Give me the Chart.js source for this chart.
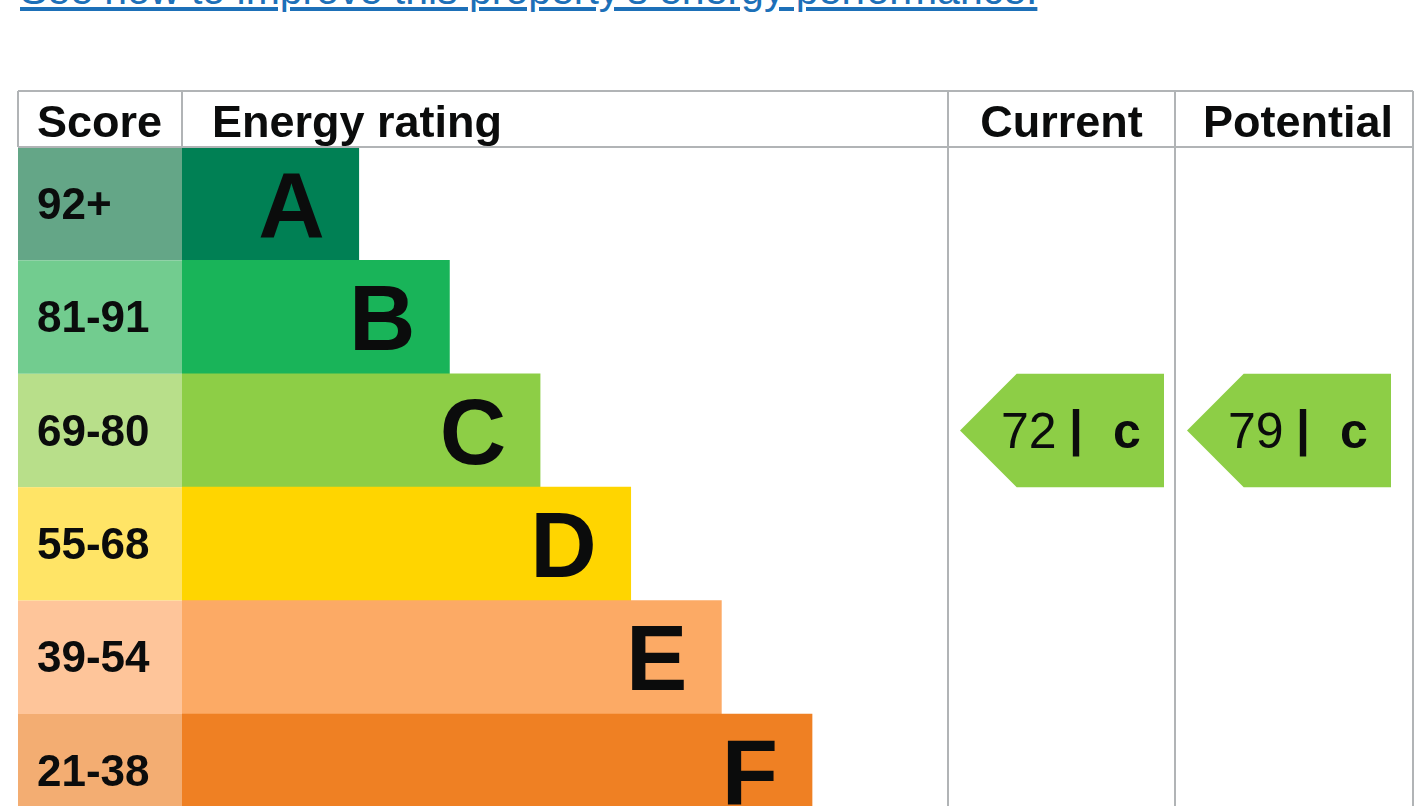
<!DOCTYPE html>
<html>
<head>
<meta charset="utf-8">
<script src="https://cdn.jsdelivr.net/npm/chart.js@4.4.1/dist/chart.umd.min.js"></script>
<style>
  html, body { margin: 0; padding: 0; background: #fff; overflow: hidden; }
  #link {
    position: absolute; left: 20px; top: -33px;
    font-family: "Liberation Sans", Arial, sans-serif; font-size: 41px;
    color: #1d70b8; text-decoration: underline; white-space: nowrap;
  }
  #epc { position: absolute; left: 0; top: 0; }
</style>
</head>
<body>
<a id="link" href="#">See how to improve this property's energy performance.</a>
<canvas id="epc" width="1420" height="960"></canvas>
<script>
// bands, top to bottom
const bands = ["A", "B", "C", "D", "E", "F", "G"];
const scoreRanges = ["92+", "81-91", "69-80", "55-68", "39-54", "21-38", "1-20"];
const bandMin = [92, 81, 69, 55, 39, 21, 1];
const barLengths = [78, 118, 158, 198, 238, 278, 318];
const bandColors = ["#008054", "#19b459", "#8dce46", "#ffd500", "#fcaa65", "#ef8023", "#e9153b"];
const scoreColors = ["#64a687", "#72cc8f", "#b8df8a", "#ffe466", "#fec59a", "#f3ad72", "#f28a9c"];
const columnTitles = ["Score", "Energy rating", "Current", "Potential"];
const currentScore = 72;
const potentialScore = 79;

const font = '"Liberation Sans", Arial, sans-serif';
const lineColor = "#b1b4b6";

function bandOf(score) {
    for (let i = 0; i < bandMin.length; i++) {
        if (score >= bandMin[i]) return i;
    }
    return bandMin.length - 1;
}

// table frame, score column, letters and arrows
const epcTable = {
    id: "epcTable",
    beforeDatasetsDraw(chart) {
        const ctx = chart.ctx;
        const y = chart.scales.y;
        const area = chart.chartArea;
        const band = (area.bottom - area.top) / bands.length;
        ctx.save();
        bands.forEach((b, i) => {
            let cy = y.getPixelForValue(i);
            ctx.fillStyle = scoreColors[i];
            ctx.fillRect(18, cy - band / 2, area.left - 18, band);
            ctx.fillStyle = "#0b0c0c";
            ctx.font = "bold 44px " + font;
            ctx.textAlign = "left";
            ctx.textBaseline = "alphabetic";
            ctx.fillText(scoreRanges[i], 37, cy + 15);
        });
        ctx.restore();
    },
    afterDatasetsDraw(chart) {
        const ctx = chart.ctx;
        const x = chart.scales.x;
        const y = chart.scales.y;
        const area = chart.chartArea;
        const band = (area.bottom - area.top) / bands.length;
        const top = 91, headBottom = area.top;
        const colCur = 948, colPot = 1175, right = 1413;

        ctx.save();
        // band letters
        ctx.fillStyle = "#0b0c0c";
        ctx.font = "bold 92px " + font;
        ctx.textAlign = "right";
        bands.forEach((b, i) => {
            let cy = y.getPixelForValue(i);
            ctx.fillText(b, x.getPixelForValue(barLengths[i]) - 34, cy + 33);
        });

        // grid lines
        ctx.strokeStyle = lineColor;
        ctx.lineWidth = 2;
        ctx.beginPath();
        ctx.moveTo(18, top); ctx.lineTo(right, top);
        ctx.moveTo(18, headBottom); ctx.lineTo(right, headBottom);
        ctx.moveTo(18, top); ctx.lineTo(18, headBottom);
        ctx.moveTo(area.left, top); ctx.lineTo(area.left, headBottom);
        [colCur, colPot, right].forEach(cx => {
            ctx.moveTo(cx, top); ctx.lineTo(cx, area.bottom);
        });
        ctx.stroke();

        // header
        ctx.fillStyle = "#0b0c0c";
        ctx.font = "bold 45px " + font;
        ctx.textAlign = "left";
        ctx.fillText(columnTitles[0], 37, 137);
        ctx.fillText(columnTitles[1], 212, 137);
        ctx.textAlign = "center";
        ctx.fillText(columnTitles[2], (colCur + colPot) / 2, 137);
        ctx.fillText(columnTitles[3], (colPot + right) / 2 + 4, 137);

        // arrows
        function arrow(left, score) {
            let i = bandOf(score);
            let cy = y.getPixelForValue(i);
            let y0 = cy - band / 2, y1 = cy + band / 2;
            let w = 204, h = band;
            ctx.fillStyle = bandColors[i];
            ctx.beginPath();
            ctx.moveTo(left, cy);
            ctx.lineTo(left + h / 2, y0);
            ctx.lineTo(left + w, y0);
            ctx.lineTo(left + w, y1);
            ctx.lineTo(left + h / 2, y1);
            ctx.closePath();
            ctx.fill();
            ctx.fillStyle = "#0b0c0c";
            ctx.textAlign = "left";
            ctx.font = "50px " + font;
            ctx.fillText(String(score), left + 41, cy + 17);
            ctx.font = "bold 50px " + font;
            ctx.fillText("|", left + 109, cy + 14);
            ctx.fillText(bands[i].toLowerCase(), left + 153, cy + 17);
        }
        arrow(colCur + 12, currentScore);
        arrow(colPot + 12, potentialScore);
        ctx.restore();
    }
};

const canvas = document.getElementById("epc");
const rowH = 113.4;
new Chart(canvas.getContext("2d"), {
    type: "bar",
    data: {
        labels: bands,
        datasets: [{
            data: barLengths,
            backgroundColor: bandColors,
            borderWidth: 0,
            barPercentage: 1,
            categoryPercentage: 1,
        }],
    },
    options: {
        indexAxis: "y",
        responsive: false,
        animation: false,
        events: [],
        layout: {
            padding: { left: 182, right: 1420 - 948, top: 147, bottom: 960 - (147 + rowH * bands.length) },
        },
        scales: {
            x: { display: false, min: 0, max: 338 },
            y: { display: false },
        },
        plugins: {
            legend: { display: false },
            tooltip: { enabled: false },
        },
    },
    plugins: [epcTable],
});
</script>
</body>
</html>
